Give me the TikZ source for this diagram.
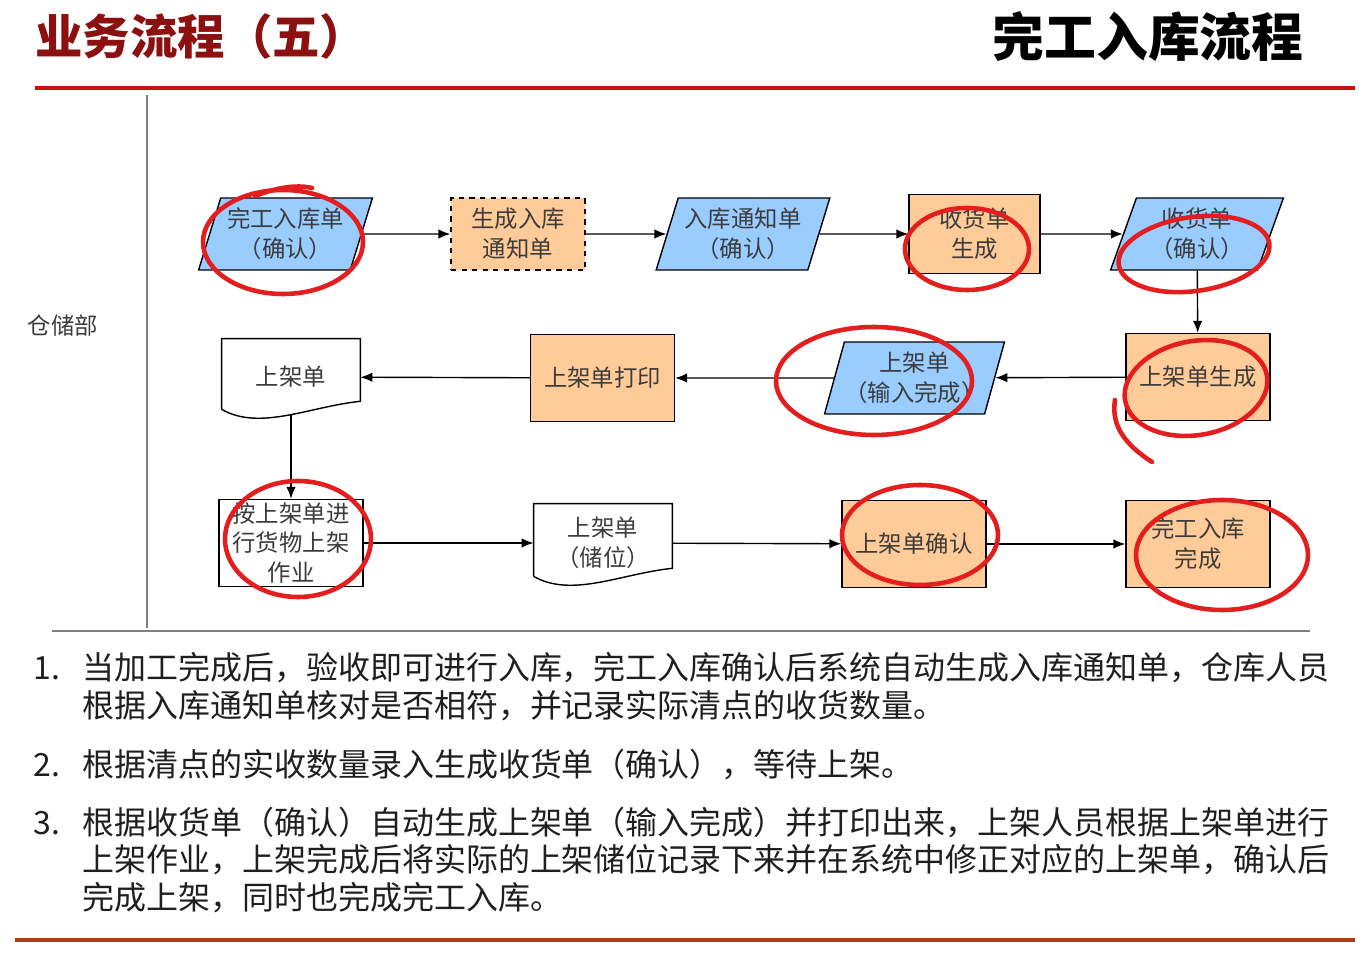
\documentclass[tikz,border=0pt]{standalone}
\usepackage{fontspec}
\setmainfont{Noto Sans CJK SC}
\usetikzlibrary{arrows.meta,shapes.geometric,calc}

\definecolor{formblue}{RGB}{153,204,255}
\definecolor{steporange}{RGB}{255,204,153}
\definecolor{titlered}{RGB}{140,16,16}
\definecolor{rulered}{RGB}{200,16,16}
\definecolor{rulebrown}{RGB}{170,62,22}
\definecolor{inkred}{RGB}{228,30,30}
\definecolor{boxtext}{RGB}{60,60,60}
\newcommand\flowfont{\fontsize{13.3}{17}\selectfont}
\newcommand\notefont{\fontsize{18.2}{22}\selectfont}

\begin{document}
\begin{tikzpicture}[
  x=0.02cm, y=-0.02cm,
  box/.style={draw, line width=0.8pt, fill=steporange, align=center, minimum width=2.88cm, minimum height=1.74cm, inner sep=0pt, font=\flowfont, text=boxtext},
  form/.style={trapezium, trapezium left angle=69, trapezium right angle=111, trapezium stretches=true, draw, line width=0.8pt, fill=formblue, align=center, minimum width=3.48cm, minimum height=1.44cm, inner sep=0pt, font=\flowfont, text=boxtext},
  docbox/.style={align=center, minimum width=2.76cm, minimum height=1.52cm, inner sep=0pt, font=\flowfont, text=boxtext},
  arr/.style={-{Latex[length=2.4mm,width=1.9mm]}, line width=0.8pt},
  scrib/.style={draw=inkred, line width=2.6pt, line cap=round},
  note/.style={anchor=west, inner sep=0pt, font=\notefont, text=black!88}
]
\useasboundingbox (0,0) rectangle (1369,979);

% title and frame
\node[anchor=west, inner sep=0pt, font=\fontsize{27}{32}\selectfont\bfseries, text=titlered] (title) at (35,36) {业务流程（五）};
\node[font=\fontsize{29.5}{34}\selectfont\bfseries] (subtitle) at (1148,37) {完工入库流程};
\draw[rulered, line width=2.3pt] (35,88) -- (1355,88);
\draw[gray, line width=0.8pt] (147,95) -- (147,628);
\draw[gray, line width=0.8pt] (52,631) -- (1310,631);
\draw[rulebrown, line width=2.8pt] (15,940) -- (1355,940);
\node[font=\flowfont, text=boxtext] (dept) at (63,326) {仓储部};

% row 1
\node[form] (n1) at (285.5,234) {完工入库单\\（确认）};
\node[box, dashed, minimum width=2.68cm, minimum height=1.44cm] (n2) at (518,234) {生成入库\\通知单};
\node[form] (n3) at (743,234) {入库通知单\\（确认）};
\node[box, minimum width=2.62cm, minimum height=1.58cm] (n4) at (974.5,234) {收货单\\生成};
\node[form] (n5) at (1197,234) {收货单\\（确认）};

% row 2
\node[box] (n6) at (1198,377) {上架单生成};
\node[form] (n7) at (914.5,378) {上架单\\（输入完成）};
\node[box] (n8) at (602.5,378) {上架单打印};
\node[docbox] (n9) at (291,377) {上架单};

% row 3
\node[box, fill=white] (n10) at (291,543) {按上架单进\\行货物上架\\作业};
\node[docbox, minimum height=1.56cm] (n11) at (603,543) {上架单\\（储位）};
\node[box] (n12) at (914,544) {上架单确认};
\node[box] (n13) at (1198,544) {完工入库\\完成};

% document outlines
\foreach \d in {n9,n11} {
  \draw[line width=0.8pt] ($(\d.south west)+(0,-6)$) -- (\d.north west) -- (\d.north east) -- ($(\d.south east)+(0,-14)$)
    .. controls ($(\d.south east)+(-50,-9)$) and ($(\d.south west)+(38,16)$) .. ($(\d.south west)+(0,-6)$);
}

\draw[arr] (n1) -- (n2);
\draw[arr] (n2) -- (n3);
\draw[arr] (n3) -- (n4);
\draw[arr] (n4) -- (n5);
\draw[arr] (n5) -- (n6);
\draw[arr] (n6) -- (n7);
\draw[arr] (n7) -- (n8);
\draw[arr] (n8) -- (n9);
\draw[arr] (n9.south) -- (n10.north);
\draw[arr] (n10) -- (n11);
\draw[arr] (n11) -- (n12);
\draw[arr] (n12) -- (n13);

% red marks
\draw[scrib] (283,242) ellipse [x radius=80, y radius=52];
\draw[scrib] (255,196) .. controls (280,186) and (300,185) .. (312,188);
\draw[scrib] (967,249) ellipse [x radius=62, y radius=41];
\draw[scrib, rotate around={8:(1194,254)}] (1194,254) ellipse [x radius=76, y radius=37];
\draw[scrib] (874,381) ellipse [x radius=98, y radius=54];
\draw[scrib, rotate around={10:(1196,388)}] (1196,388) ellipse [x radius=72, y radius=47];
\draw[scrib] (1115,400) .. controls (1112,420) and (1118,440) .. (1152,462);
\draw[scrib] (298,539) ellipse [x radius=73, y radius=58];
\draw[scrib] (920,535) ellipse [x radius=78, y radius=50];
\draw[scrib] (1222,555) ellipse [x radius=86, y radius=55];

% notes
\node[note] (num1) at (33,668) {1.};
\node[note] (t1a) at (82,668) {当加工完成后，验收即可进行入库，完工入库确认后系统自动生成入库通知单，仓库人员};
\node[note] (t1b) at (82,706) {根据入库通知单核对是否相符，并记录实际清点的收货数量。};
\node[note] (num2) at (33,765) {2.};
\node[note] (t2a) at (82,765) {根据清点的实收数量录入生成收货单（确认），等待上架。};
\node[note] (num3) at (33,823) {3.};
\node[note] (t3a) at (82,823) {根据收货单（确认）自动生成上架单（输入完成）并打印出来，上架人员根据上架单进行};
\node[note] (t3b) at (82,860) {上架作业，上架完成后将实际的上架储位记录下来并在系统中修正对应的上架单，确认后};
\node[note] (t3c) at (82,898) {完成上架，同时也完成完工入库。};
\end{tikzpicture}
\end{document}
